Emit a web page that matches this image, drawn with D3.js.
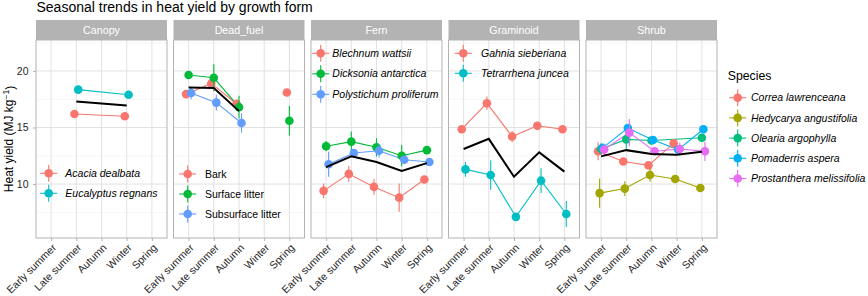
<!DOCTYPE html>
<html>
<head>
<meta charset="utf-8">
<script src="https://cdn.jsdelivr.net/npm/d3@7"></script>
<style>
    body { margin: 0; background: #fff; }
    svg { font-family: "Liberation Sans", Arial, Helvetica, sans-serif; }
</style>
</head>
<body>
<div id="chart"></div>
<script>
const seasons = ['Early summer', 'Late summer', 'Autumn', 'Winter', 'Spring'];
const growthForms = ['Canopy', 'Dead_fuel', 'Fern', 'Graminoid', 'Shrub'];
const yTicks = [10, 15, 20];
const yMinorTicks = [7.5, 12.5, 17.5, 22.5];

// null = no row for that season (line skips over it), NaN = NA row (line breaks)
const canopySpecies = ['Acacia dealbata', 'Eucalyptus regnans'];
const canopyValues = [
    [null, 16.2, null, 16.0, null],
    [null, 18.35, null, 17.9, null]
];
const canopyErrors = [
    [0, 0.15, 0, 0.15, 0],
    [0, 0.15, 0, 0.15, 0]
];
const canopyMean = [null, 17.3, null, 16.95, null];

const deadFuelTypes = ['Bark', 'Surface litter', 'Subsurface litter'];
const deadFuelValues = [
    [17.95, 18.9, 17.1, NaN, 18.1],
    [19.65, 19.4, 16.8, NaN, 15.6],
    [18.05, 17.2, 15.4, NaN, null]
];
const deadFuelErrors = [
    [0.3, 0.3, 0.3, 0, 0.2],
    [0.3, 1.2, 1.0, 0, 1.3],
    [0.55, 0.7, 0.85, 0, 0]
];
const deadFuelMean = [18.55, 18.5, 16.45, NaN, null];

const fernSpecies = ['Blechnum wattsii', 'Dicksonia antarctica', 'Polystichum proliferum'];
const fernValues = [
    [9.4, 10.9, 9.75, 8.8, 10.4],
    [13.35, 13.75, 13.25, 12.5, 13.0],
    [11.75, 12.75, 12.95, 12.15, 11.95]
];
const fernErrors = [
    [0.65, 0.7, 0.7, 1.25, 0.2],
    [0.45, 0.9, 0.8, 0.95, 0.25],
    [1.1, 0.3, 0.6, 0.3, 0.35]
];
const fernMean = [11.5, 12.45, 11.95, 11.15, 11.85];

const graminoidSpecies = ['Gahnia sieberiana', 'Tetrarrhena juncea'];
const graminoidValues = [
    [14.85, 17.15, 14.2, 15.15, 14.85],
    [11.3, 10.8, 7.1, 10.3, 7.35]
];
const graminoidErrors = [
    [0.15, 0.6, 0.5, 0.2, 0.2],
    [0.65, 1.3, 0.2, 1.1, 1.15]
];
const graminoidMean = [13.1, 14.0, 10.65, 12.8, 11.1];

const shrubSpecies = ['Correa lawrenceana', 'Hedycarya angustifolia', 'Olearia argophylla',
    'Pomaderris aspera', 'Prostanthera melissifolia'];
const shrubValues = [
    [12.9, 12.0, 11.65, 13.6, null],
    [9.2, 9.6, 10.8, 10.45, 9.65],
    [13.1, 13.95, 13.85, null, 14.1],
    [13.2, 14.95, 13.9, 13.05, 14.85],
    [13.05, 14.55, 12.9, 13.1, 12.9]
];
const shrubErrors = [
    [0.8, 0.2, 0.2, 0.3, 0],
    [1.3, 0.65, 0.6, 0.2, 0.2],
    [0.5, 0.8, 0.3, 0, 0.3],
    [0.3, 0.3, 0.2, 0.35, 0.2],
    [0.5, 1.2, 0.3, 0.55, 0.85]
];
const shrubMean = [12.45, 13.0, 12.65, 12.6, 12.85];

// ggplot default hue palettes
const hue2 = ['#F8766D', '#00BFC4'];
const hue3 = ['#F8766D', '#00BA38', '#619CFF'];
const hue5 = ['#F8766D', '#A3A500', '#00BF7D', '#00B0F6', '#E76BF3'];

const panels = [
    {species: canopySpecies, values: canopyValues, errors: canopyErrors, mean: canopyMean, colors: hue2, italic: true},
    {species: deadFuelTypes, values: deadFuelValues, errors: deadFuelErrors, mean: deadFuelMean, colors: hue3, italic: false},
    {species: fernSpecies, values: fernValues, errors: fernErrors, mean: fernMean, colors: hue3, italic: true},
    {species: graminoidSpecies, values: graminoidValues, errors: graminoidErrors, mean: graminoidMean, colors: hue2, italic: true},
    {species: shrubSpecies, values: shrubValues, errors: shrubErrors, mean: shrubMean, colors: hue5, italic: true}
];

// legend placement per panel (absolute px); Shrub gets the outside "Species" legend
const legendLayout = [
    {key: 48.7, text: 65.3, top: 173.3, step: 20},
    {key: 187.7, text: 205, top: 174, step: 20},
    {key: 320.7, text: 332.3, top: 53.3, step: 20.5},
    {key: 463.3, text: 481, top: 53.3, step: 20},
    {key: 737.7, text: 751, top: 97.7, step: 20.2, title: 'Species', titleX: 727.7, titleY: 80}
];

const width = 868, height = 296;
const panelTop = 40, panelBottom = 238, stripH = 20;
const panelLeft0 = 36, panelW = 131, panelGap = 6.5;
const panelH = panelBottom - panelTop;
const pointR = 4.3;
const tickColor = '#262626';

const svg = d3.select('#chart').append('svg')
    .attr('width', width)
    .attr('height', height);

svg.append('text')
    .attr('x', 36.5)
    .attr('y', 11.5)
    .style('font-size', '14px')
    .attr('fill', '#000')
    .text('Seasonal trends in heat yield by growth form');

const yLabel = svg.append('text')
    .attr('transform', `translate(12.5,${(panelTop + panelBottom) / 2}) rotate(-90)`)
    .attr('text-anchor', 'middle')
    .style('font-size', '12px')
    .attr('fill', '#000');
yLabel.append('tspan').text('Heat yield (MJ kg');
yLabel.append('tspan').attr('dy', '-0.4em').style('font-size', '8.5px').text('\u22121');
yLabel.append('tspan').attr('dy', '0.4em').text(')');

const xScale = d3.scalePoint()
    .domain(seasons)
    .range([0, panelW])
    .padding(0.6);

const yScale = d3.scaleLinear()
    .domain([5.23, 22.74])
    .range([panelH, 0]);

const dodgeWidth = 0.3 * xScale.step();

const line = d3.line()
    .defined(d => !isNaN(d.v))
    .x(d => d.x)
    .y(d => yScale(d.v));

panels.forEach((p, pi) => {
    const left = panelLeft0 + pi * (panelW + panelGap);
    const g = svg.append('g')
        .attr('transform', `translate(${left},${panelTop})`);

    // strip
    g.append('rect')
        .attr('x', 0)
        .attr('y', -stripH)
        .attr('width', panelW)
        .attr('height', stripH)
        .attr('fill', '#B3B3B3');
    g.append('text')
        .attr('x', panelW / 2)
        .attr('y', -stripH / 2)
        .attr('dy', '0.36em')
        .attr('text-anchor', 'middle')
        .style('font-size', '10.7px')
        .attr('fill', '#fff')
        .text(growthForms[pi]);

    // grid
    g.selectAll('.minor')
        .data(yMinorTicks)
        .join('line')
        .attr('x1', 0)
        .attr('x2', panelW)
        .attr('y1', d => yScale(d))
        .attr('y2', d => yScale(d))
        .attr('stroke', '#EBEBEB')
        .attr('stroke-width', 0.5);
    g.selectAll('.major-y')
        .data(yTicks)
        .join('line')
        .attr('x1', 0)
        .attr('x2', panelW)
        .attr('y1', d => yScale(d))
        .attr('y2', d => yScale(d))
        .attr('stroke', '#DEDEDE')
        .attr('stroke-width', 0.9);
    g.selectAll('.major-x')
        .data(seasons)
        .join('line')
        .attr('x1', d => xScale(d))
        .attr('x2', d => xScale(d))
        .attr('y1', 0)
        .attr('y2', panelH)
        .attr('stroke', '#DEDEDE')
        .attr('stroke-width', 0.9);

    const n = p.species.length;
    const series = p.species.map((s, si) => {
        const off = (si - (n - 1) / 2) * dodgeWidth / n;
        return seasons.map((season, i) => ({
            x: xScale(season) + off,
            v: p.values[si][i],
            e: p.errors[si][i]
        })).filter(d => d.v !== null);
    });

    // species lines
    series.forEach((pts, si) => {
        g.append('path')
            .datum(pts)
            .attr('d', line)
            .attr('fill', 'none')
            .attr('stroke', p.colors[si])
            .attr('stroke-width', 1.1);
    });

    // error bars + points
    series.forEach((pts, si) => {
        const ok = pts.filter(d => !isNaN(d.v));
        g.selectAll(null)
            .data(ok.filter(d => d.e > 0))
            .join('line')
            .attr('x1', d => d.x)
            .attr('x2', d => d.x)
            .attr('y1', d => yScale(d.v - d.e))
            .attr('y2', d => yScale(d.v + d.e))
            .attr('stroke', p.colors[si])
            .attr('stroke-width', 1.1);
        g.selectAll(null)
            .data(ok)
            .join('circle')
            .attr('cx', d => d.x)
            .attr('cy', d => yScale(d.v))
            .attr('r', pointR)
            .attr('fill', p.colors[si]);
    });

    // mean line
    const meanPts = seasons.map((season, i) => ({x: xScale(season), v: p.mean[i]}))
        .filter(d => d.v !== null);
    g.append('path')
        .datum(meanPts)
        .attr('d', line)
        .attr('fill', 'none')
        .attr('stroke', '#000')
        .attr('stroke-width', 2);

    // border
    g.append('rect')
        .attr('width', panelW)
        .attr('height', panelH)
        .attr('fill', 'none')
        .attr('stroke', '#B3B3B3')
        .attr('stroke-width', 1);

    // x axis
    const xAxisG = g.append('g')
        .attr('transform', `translate(0,${panelH})`)
        .call(d3.axisBottom(xScale).tickSize(3));
    xAxisG.select('.domain').remove();
    xAxisG.selectAll('line').attr('stroke', '#B3B3B3');
    xAxisG.selectAll('text')
        .attr('x', 0)
        .attr('y', 0)
        .attr('dy', '0.71em')
        .attr('text-anchor', 'end')
        .attr('transform', 'translate(0,5) rotate(-45)')
        .style('font-size', '10.5px')
        .style('font-family', 'inherit')
        .attr('fill', tickColor);

    if (pi === 0) {
        const yAxisG = g.append('g')
            .call(d3.axisLeft(yScale).tickValues(yTicks).tickSize(3).tickPadding(4.5));
        yAxisG.select('.domain').remove();
        yAxisG.selectAll('line').attr('stroke', '#B3B3B3');
        yAxisG.selectAll('text')
            .style('font-size', '10.5px')
            .style('font-family', 'inherit')
            .attr('fill', tickColor);
    }

    // legend
    const lay = legendLayout[pi];
    if (lay.title) {
        svg.append('text')
            .attr('x', lay.titleX)
            .attr('y', lay.titleY)
            .style('font-size', '12.3px')
            .attr('fill', '#000')
            .text(lay.title);
    }
    const leg = svg.append('g');
    p.species.forEach((s, si) => {
        const ly = lay.top + si * lay.step;
        leg.append('line')
            .attr('x1', lay.key - 8.5)
            .attr('x2', lay.key + 8.5)
            .attr('y1', ly)
            .attr('y2', ly)
            .attr('stroke', p.colors[si])
            .attr('stroke-width', 1.1);
        leg.append('line')
            .attr('x1', lay.key)
            .attr('x2', lay.key)
            .attr('y1', ly - 8.5)
            .attr('y2', ly + 8.5)
            .attr('stroke', p.colors[si])
            .attr('stroke-width', 1.1);
        leg.append('circle')
            .attr('cx', lay.key)
            .attr('cy', ly)
            .attr('r', pointR)
            .attr('fill', p.colors[si]);
        leg.append('text')
            .attr('x', lay.text)
            .attr('y', ly)
            .attr('dy', '0.35em')
            .style('font-size', '10.5px')
            .style('font-style', p.italic ? 'italic' : 'normal')
            .attr('fill', '#000')
            .text(s);
    });
});
</script>
</body>
</html>
